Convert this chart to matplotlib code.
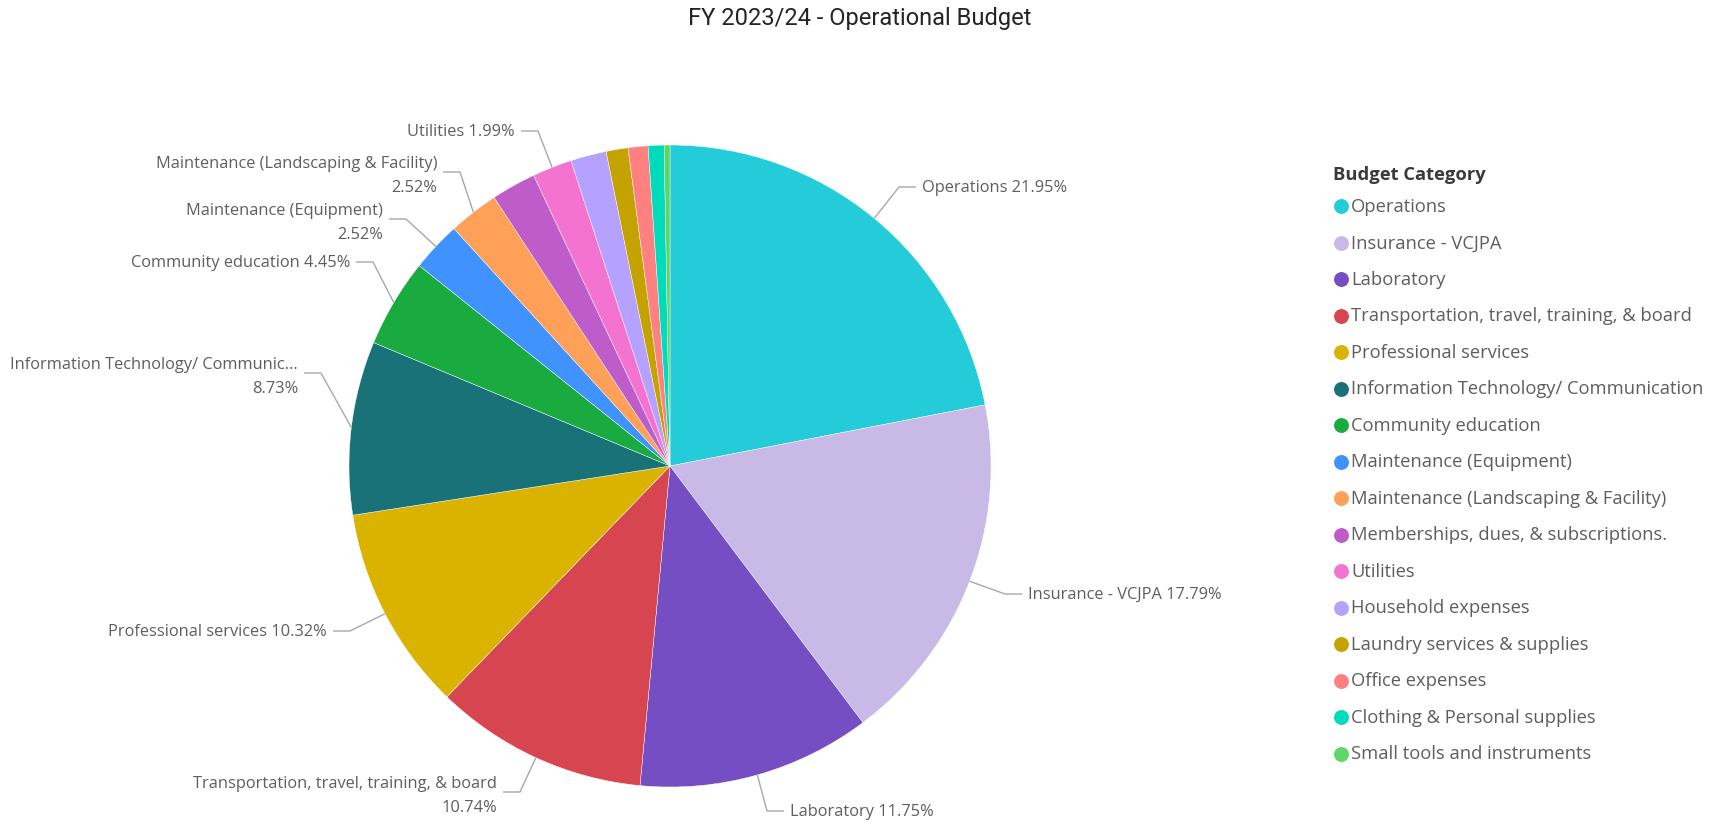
import matplotlib

matplotlib.use("Agg")
import matplotlib.pyplot as plt
import numpy as np

# Budget share per category (percent of total)
categories = [
    "Operations",
    "Insurance - VCJPA",
    "Laboratory",
    "Transportation, travel, training, & board",
    "Professional services",
    "Information Technology/ Communication",
    "Community education",
    "Maintenance (Equipment)",
    "Maintenance (Landscaping & Facility)",
    "Memberships, dues, & subscriptions.",
    "Utilities",
    "Household expenses",
    "Laundry services & supplies",
    "Office expenses",
    "Clothing & Personal supplies",
    "Small tools and instruments",
]
shares = [21.95, 17.79, 11.75, 10.74, 10.32, 8.73, 4.45, 2.52, 2.52,
          2.25, 1.99, 1.80, 1.10, 1.00, 0.80, 0.29]
colors = [
    "#24CBD8", "#C8B9E6", "#744EC2", "#D64550", "#D9B300", "#197278",
    "#1AAB40", "#4092FF", "#FFA058", "#BE5DC9", "#F472D0", "#B5A1FF",
    "#C4A200", "#FF8080", "#00DBBC", "#5BD667",
]

# slices that carry a data label: shortened name, two-line flag
label_names = {
    "Operations": ("Operations", False),
    "Insurance - VCJPA": ("Insurance - VCJPA", False),
    "Laboratory": ("Laboratory", False),
    "Transportation, travel, training, & board": (
        "Transportation, travel, training, & board", True),
    "Professional services": ("Professional services", False),
    "Information Technology/ Communication": (
        "Information Technology/ Communic...", True),
    "Community education": ("Community education", False),
    "Maintenance (Equipment)": ("Maintenance (Equipment)", True),
    "Maintenance (Landscaping & Facility)": (
        "Maintenance (Landscaping & Facility)", True),
    "Utilities": ("Utilities", False),
}

# label placement in pixels: (text x, leader y)
label_pos = {
    "Operations": (922, 188),
    "Insurance - VCJPA": (1028, 595),
    "Laboratory": (790, 812),
    "Transportation, travel, training, & board": (497, 793),
    "Professional services": (327, 632),
    "Information Technology/ Communication": (298, 374),
    "Community education": (350, 263),
    "Maintenance (Equipment)": (383, 220),
    "Maintenance (Landscaping & Facility)": (437, 173),
    "Utilities": (515, 132),
}

W, H = 1717, 828
CX, CY, R = 670, 467, 321
TEXT_COLOR = "#605E5C"
LINE_COLOR = "#A8A8A8"
FONT = "Open Sans"
LABEL_SIZE = 11.8
LEGEND_SIZE = 13.2

fig = plt.figure(figsize=(W / 100, H / 100), dpi=100)
ax = fig.add_axes([0, 0, 1, 1])

# y axis runs downward, so start at -90 and go counterclockwise in data
# space, which reads as clockwise from 12 o'clock on screen
ax.pie(
    shares,
    colors=colors,
    startangle=-90,
    counterclock=True,
    radius=R,
    center=(CX, CY),
    wedgeprops=dict(edgecolor="white", linewidth=0.3),
    frame=False,
)
ax.set_xlim(0, W)
ax.set_ylim(H, 0)
ax.set_aspect("equal")
ax.axis("off")

total = sum(shares)
cum = np.cumsum([0] + shares[:-1])
for name, start, val in zip(categories, cum, shares):
    if name not in label_names:
        continue
    mid = np.deg2rad(-90 + 360 * (start + val / 2) / total)
    rx, ry = CX + R * np.cos(mid), CY + R * np.sin(mid)
    tx, ly = label_pos[name]
    side = 1 if tx > CX else -1
    elbow_x = tx - side * 23
    end_x = tx - side * 6
    ax.plot([rx, elbow_x, end_x], [ry, ly, ly], color=LINE_COLOR, lw=1.0,
            solid_capstyle="butt")

    short, two_line = label_names[name]
    pct = f"{val / total * 100:.2f}%"
    ha = "left" if side > 0 else "right"
    if two_line:
        ax.text(tx, ly - 9, short, ha=ha, va="center", fontsize=LABEL_SIZE,
                color=TEXT_COLOR, family=FONT)
        ax.text(tx, ly + 15, pct, ha=ha, va="center", fontsize=LABEL_SIZE,
                color=TEXT_COLOR, family=FONT)
    else:
        ax.text(tx, ly, f"{short} {pct}", ha=ha, va="center",
                fontsize=LABEL_SIZE, color=TEXT_COLOR, family=FONT)

ax.text(860, 19, "FY 2023/24 - Operational Budget", ha="center", va="center",
        fontsize=17, color="#252423", family="Roboto")

# legend
ax.text(1333, 175, "Budget Category", ha="left", va="center",
        fontsize=LEGEND_SIZE, fontweight="bold", color="#3B3A39", family=FONT)
for i, (name, c) in enumerate(zip(categories, colors)):
    y = 207 + i * 36.5
    ax.scatter([1341], [y], s=115, color=c, linewidths=0, zorder=3)
    ax.text(1351, y, name, ha="left", va="center", fontsize=LEGEND_SIZE,
            color=TEXT_COLOR, family=FONT)

fig.savefig("out.png", dpi=100)
plt.close(fig)
